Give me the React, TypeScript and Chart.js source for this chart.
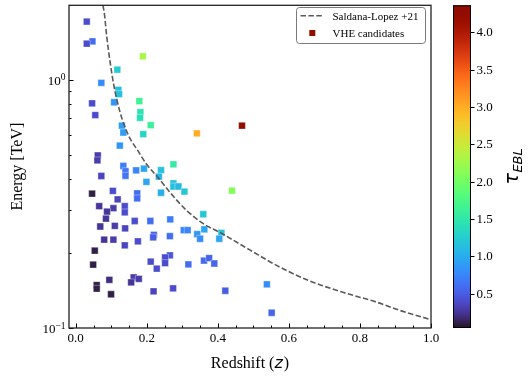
import React, { useEffect, useRef } from "react";
import { Chart, registerables } from "chart.js";
Chart.register(...registerables);

// Saldana-Lopez +21 tau=1 horizon
const curveZ = [0.0765, 0.0806, 0.0873, 0.1058, 0.1247, 0.148, 0.1762, 0.20, 0.2325, 0.2654, 0.3124, 0.359, 0.411, 0.491, 0.571, 0.66, 0.754, 0.848, 0.914, 0.993];
const curveE = [2.0, 1.85, 1.495, 0.976, 0.742, 0.6, 0.515, 0.456, 0.403, 0.352, 0.2974, 0.2634, 0.2404, 0.206, 0.177, 0.1545, 0.139, 0.127, 0.1175, 0.1088];

// Sources: redshift, energy [TeV], tau_EBL
const srcZ = [0.031, 0.047, 0.031, 0.189, 0.117, 0.072, 0.120, 0.122, 0.046, 0.108, 0.179, 0.055, 0.182, 0.181, 0.211, 0.130, 0.134, 0.190, 0.341, 0.124, 0.062, 0.061, 0.275, 0.134, 0.140, 0.140, 0.170, 0.192, 0.240, 0.072, 0.234, 0.199, 0.275, 0.275, 0.289, 0.306, 0.240, 0.046, 0.1045, 0.173, 0.173, 0.118, 0.066, 0.106, 0.138, 0.138, 0.088, 0.085, 0.359, 0.166, 0.210, 0.266, 0.440, 0.069, 0.110, 0.139, 0.220, 0.218, 0.265, 0.304, 0.315, 0.342, 0.350, 0.362, 0.410, 0.404, 0.080, 0.106, 0.175, 0.138, 0.0535, 0.049, 0.211, 0.265, 0.2515, 0.2515, 0.228, 0.317, 0.361, 0.3755, 0.390, 0.0946, 0.163, 0.1775, 0.156, 0.059, 0.059, 0.0994, 0.219, 0.274, 0.421, 0.538, 0.5515];
const srcE = [1.72, 1.43, 1.40, 1.245, 1.10, 0.974, 0.913, 0.877, 0.805, 0.813, 0.822, 0.722, 0.742, 0.704, 0.657, 0.654, 0.614, 0.605, 0.609, 0.544, 0.496, 0.474, 0.457, 0.450, 0.429, 0.411, 0.432, 0.439, 0.433, 0.410, 0.408, 0.388, 0.383, 0.372, 0.372, 0.355, 0.351, 0.348, 0.357, 0.349, 0.333, 0.330, 0.310, 0.304, 0.310, 0.2925, 0.2946, 0.276, 0.2875, 0.270, 0.270, 0.274, 0.358, 0.2566, 0.258, 0.252, 0.2374, 0.2318, 0.2345, 0.248, 0.248, 0.239, 0.229, 0.250, 0.242, 0.229, 0.227, 0.227, 0.2235, 0.2154, 0.205, 0.180, 0.1853, 0.1963, 0.1924, 0.1827, 0.1735, 0.1804, 0.187, 0.1913, 0.182, 0.1564, 0.160, 0.1577, 0.1527, 0.149, 0.144, 0.1368, 0.1406, 0.1445, 0.1413, 0.150, 0.1152];
const srcTau = [0.40, 0.60, 0.40, 2.30, 1.25, 0.80, 1.15, 1.15, 0.40, 0.85, 1.65, 0.40, 1.45, 1.40, 1.60, 0.90, 0.90, 1.30, 3.00, 0.85, 0.30, 0.30, 1.55, 0.70, 0.65, 0.65, 0.75, 0.95, 1.15, 0.35, 1.05, 0.95, 1.15, 1.15, 1.10, 1.20, 1.00, 0.10, 0.40, 0.60, 0.60, 0.35, 0.25, 0.30, 0.40, 0.40, 0.25, 0.25, 1.20, 0.40, 0.60, 0.70, 2.10, 0.25, 0.30, 0.35, 0.55, 0.50, 0.60, 0.75, 0.75, 0.85, 0.80, 0.95, 1.15, 0.95, 0.25, 0.30, 0.40, 0.35, 0.10, 0.10, 0.40, 0.45, 0.40, 0.40, 0.40, 0.60, 0.60, 0.55, 0.55, 0.20, 0.30, 0.30, 0.25, 0.10, 0.10, 0.10, 0.35, 0.40, 0.50, 0.80, 0.55];

// VHE candidates
const vheZ = [0.468];
const vheE = [0.654];
const vheTau = [4.36];

const xMinorStep = 0.05;
const xTickVals = [0, 0.2, 0.4, 0.6, 0.8, 1.0];
const xTickLabels = ["0.0", "0.2", "0.4", "0.6", "0.8", "1.0"];
const yMajorVals = [0.1, 1];
const yMajorExp = ["\u22121", "0"];
const cbTickVals = [0.5, 1.0, 1.5, 2.0, 2.5, 3.0, 3.5, 4.0];
const cbTickLabels = ["0.5", "1.0", "1.5", "2.0", "2.5", "3.0", "3.5", "4.0"];
const TAU_MIN = 0.04;
const TAU_MAX = 4.36;
const X_MIN = -0.019;
const X_MAX = 1.0;
const Y_MIN = 0.1;
const Y_MAX = 2.0;

const SERIF = '"Liberation Serif", "Times New Roman", serif';
const SANS = '"DejaVu Sans", sans-serif';

function turbo(t: number): [number, number, number] {
  const x = Math.max(0, Math.min(1, t));
  const r = 0.13572138 + x * (4.6153926 + x * (-42.66032258 + x * (132.13108234 + x * (-152.94239396 + x * 59.28637943))));
  const g = 0.09140261 + x * (2.19418839 + x * (4.84296658 + x * (-14.18503333 + x * (4.27729857 + x * 2.82956604))));
  const b = 0.1066733 + x * (12.64194608 + x * (-60.58204836 + x * (110.36276771 + x * (-89.90310912 + x * 27.34824973))));
  const c = (v: number) => Math.round(255 * Math.max(0, Math.min(1, v)));
  return [c(r), c(g), c(b)];
}
function tauColor(tau: number): string {
  const [r, g, b] = turbo((tau - TAU_MIN) / (TAU_MAX - TAU_MIN));
  return `rgb(${r},${g},${b})`;
}

export default function App() {
  const ref = useRef<HTMLCanvasElement>(null);
  useEffect(() => {
    document.body.style.margin = "0";
    const canvas = ref.current!;

    const deco = {
      id: "deco",
      afterDraw(chart: any) {
        const ctx: CanvasRenderingContext2D = chart.ctx;
        const ca = chart.chartArea;
        const xs = chart.scales.x;
        const ys = chart.scales.y;
        ctx.save();
        const line = (x1: number, y1: number, x2: number, y2: number) => {
          ctx.beginPath();
          ctx.moveTo(x1, y1);
          ctx.lineTo(x2, y2);
          ctx.stroke();
        };
        // ticks (inward)
        ctx.strokeStyle = "#000";
        ctx.lineWidth = 1;
        const nX = Math.round((X_MAX - 0) / xMinorStep);
        for (let i = 0; i <= nX; i++) {
          const v = i * xMinorStep;
          const px = Math.round(xs.getPixelForValue(v)) + 0.5;
          const major = i % 4 === 0;
          line(px, ca.bottom, px, ca.bottom - (major ? 4.5 : 2.5));
        }
        for (const dec of [0.1, 1]) {
          for (let k = 1; k <= 9; k++) {
            const v = dec * k;
            if (v < Y_MIN - 1e-9 || v > Y_MAX + 1e-9) continue;
            const py = Math.round(ys.getPixelForValue(v)) + 0.5;
            const major = k === 1;
            line(ca.left, py, ca.left + (major ? 4.5 : 2.5), py);
          }
        }
        // spines
        ctx.strokeStyle = "#222";
        ctx.lineWidth = 1.3;
        ctx.strokeRect(ca.left, ca.top, ca.right - ca.left, ca.bottom - ca.top);

        // x tick labels
        ctx.fillStyle = "#000";
        ctx.font = `13px ${SERIF}`;
        ctx.textAlign = "center";
        ctx.textBaseline = "alphabetic";
        xTickVals.forEach((v, i) => {
          ctx.fillText(xTickLabels[i], xs.getPixelForValue(v), 342);
        });
        // y tick labels 10^n
        yMajorVals.forEach((v, i) => {
          const py = ys.getPixelForValue(v);
          ctx.font = `9.5px ${SERIF}`;
          const wSup = ctx.measureText(yMajorExp[i]).width;
          ctx.font = `13px ${SERIF}`;
          const wBase = ctx.measureText("10").width;
          const right = ca.left - 3.5;
          ctx.textAlign = "left";
          ctx.fillText("10", right - wSup - wBase, py + 5);
          ctx.font = `9.5px ${SERIF}`;
          ctx.fillText(yMajorExp[i], right - wSup, py + 0.5);
        });

        // x title: Redshift (z)
        ctx.textAlign = "left";
        const t1 = "Redshift (";
        const t2 = "z";
        const t3 = ")";
        ctx.font = `16px ${SERIF}`;
        const w1 = ctx.measureText(t1).width;
        const w3 = ctx.measureText(t3).width;
        ctx.font = `italic 16px ${SANS}`;
        const w2 = ctx.measureText(t2).width + 1;
        const cx = (ca.left + ca.right) / 2;
        const sx = cx - (w1 + w2 + w3) / 2;
        ctx.font = `16px ${SERIF}`;
        ctx.fillText(t1, sx, 368);
        ctx.font = `italic 16px ${SANS}`;
        ctx.fillText(t2, sx + w1, 368);
        ctx.font = `16px ${SERIF}`;
        ctx.fillText(t3, sx + w1 + w2, 368);

        // y title
        ctx.save();
        ctx.translate(22, (ca.top + ca.bottom) / 2);
        ctx.rotate(-Math.PI / 2);
        ctx.textAlign = "center";
        ctx.font = `16px ${SERIF}`;
        ctx.fillText("Energy [TeV]", 0, 0);
        ctx.restore();

        // colorbar
        const cbL = 453, cbR = 471, cbT = ca.top, cbB = ca.bottom;
        const grad = ctx.createLinearGradient(0, cbB, 0, cbT);
        for (let i = 0; i <= 64; i++) {
          const [r, g, b] = turbo(i / 64);
          grad.addColorStop(i / 64, `rgb(${r},${g},${b})`);
        }
        ctx.fillStyle = grad;
        ctx.fillRect(cbL, cbT, cbR - cbL, cbB - cbT);
        ctx.strokeStyle = "#000";
        ctx.lineWidth = 1;
        ctx.strokeRect(cbL + 0.5, cbT + 0.5, cbR - cbL - 1, cbB - cbT - 1);
        const cbY = (v: number) => cbB - ((v - TAU_MIN) / (TAU_MAX - TAU_MIN)) * (cbB - cbT);
        ctx.fillStyle = "#000";
        ctx.font = `13px ${SERIF}`;
        ctx.textAlign = "left";
        ctx.textBaseline = "middle";
        cbTickVals.forEach((v, i) => {
          const py = Math.round(cbY(v)) + 0.5;
          line(cbR, py, cbR + 3.5, py);
          ctx.fillText(cbTickLabels[i], cbR + 5.5, py + 0.5);
        });
        // colorbar label tau_EBL
        ctx.save();
        ctx.textBaseline = "alphabetic";
        ctx.font = `italic 19px ${SANS}`;
        const wt = ctx.measureText("\u03c4").width;
        ctx.font = `italic 13px ${SANS}`;
        const we = ctx.measureText("EBL").width;
        ctx.translate(518, (cbT + cbB) / 2);
        ctx.rotate(-Math.PI / 2);
        const u0 = -(wt + we) / 2;
        ctx.font = `italic 19px ${SANS}`;
        ctx.fillText("\u03c4", u0, 0);
        ctx.font = `italic 13px ${SANS}`;
        ctx.fillText("EBL", u0 + wt + 0.5, 3.5);
        ctx.restore();

        // legend
        ctx.save();
        ctx.beginPath();
        (ctx as any).roundRect(296.5, 7.5, 129, 36, 3);
        ctx.fillStyle = "rgba(255,255,255,0.85)";
        ctx.fill();
        ctx.strokeStyle = "#7a7a7a";
        ctx.lineWidth = 1;
        ctx.stroke();
        ctx.strokeStyle = "#5a5a5a";
        ctx.lineWidth = 1.6;
        ctx.setLineDash([5.5, 2.4]);
        line(300.5, 15.7, 323.5, 15.7);
        ctx.setLineDash([]);
        ctx.fillStyle = tauColor(vheTau[0]);
        ctx.fillRect(309.3, 30, 6, 6);
        ctx.fillStyle = "#000";
        ctx.font = `11px ${SERIF}`;
        ctx.textAlign = "left";
        ctx.textBaseline = "alphabetic";
        ctx.fillText("Saldana-Lopez +21", 332.5, 19.8);
        ctx.fillText("VHE candidates", 332.5, 36.8);
        ctx.restore();

        ctx.restore();
      },
    };

    const chart = new Chart(canvas, {
      type: "scatter",
      data: {
        datasets: [
          {
            label: "Saldana-Lopez +21",
            data: curveZ.map((z, i) => ({ x: z, y: curveE[i] })),
            showLine: true,
            borderColor: "#5a5a5a",
            borderWidth: 1.6,
            borderDash: [5.5, 2.4],
            pointRadius: 0,
            cubicInterpolationMode: "monotone",
            fill: false,
          } as any,
          {
            label: "VHE candidates",
            data: vheZ.map((z, i) => ({ x: z, y: vheE[i] })),
            pointStyle: "rect",
            pointRadius: 4.8,
            backgroundColor: vheTau.map(tauColor),
            borderColor: "rgba(255,255,255,0.7)",
            borderWidth: 0.5,
          },
          {
            label: "sources",
            data: srcZ.map((z, i) => ({ x: z, y: srcE[i] })),
            pointStyle: "rect",
            pointRadius: 4.8,
            backgroundColor: srcTau.map(tauColor),
            borderColor: "rgba(255,255,255,0.7)",
            borderWidth: 0.5,
          },
        ],
      },
      options: {
        responsive: false,
        animation: false,
        devicePixelRatio: 1,
        layout: { padding: { top: 2, right: 100, left: 0, bottom: 0 } },
        plugins: { legend: { display: false }, tooltip: { enabled: false } },
        scales: {
          x: {
            type: "linear",
            min: X_MIN,
            max: X_MAX,
            ticks: { display: false },
            grid: { display: false },
            border: { display: false },
            afterFit: (s: any) => { s.height = 52; },
          },
          y: {
            type: "logarithmic",
            min: Y_MIN,
            max: Y_MAX,
            ticks: { display: false },
            grid: { display: false },
            border: { display: false },
            afterFit: (s: any) => { s.width = 69; },
          },
        },
      },
      plugins: [deco],
    } as any);
    return () => chart.destroy();
  }, []);
  return (
    <div style={{ width: 531, height: 380 }}>
      <canvas ref={ref} width={531} height={380} style={{ display: "block" }} />
    </div>
  );
}
